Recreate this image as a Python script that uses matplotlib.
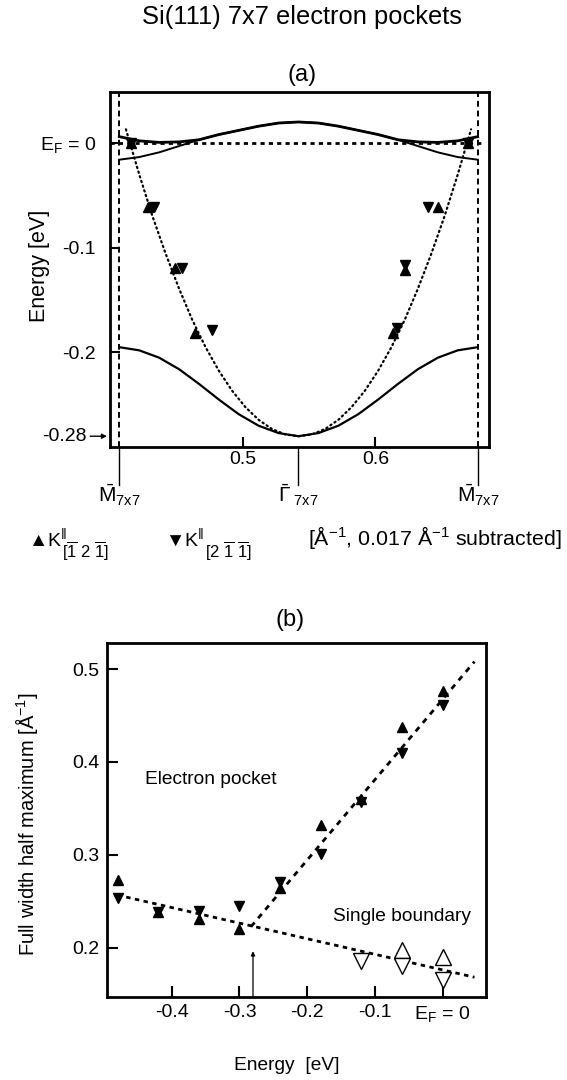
import matplotlib
matplotlib.use("Agg")
from matplotlib import pyplot as plt
import matplotlib.transforms as mtransforms

plt.rcParams["font.family"] = ["Liberation Sans", "DejaVu Sans"]
plt.rcParams["font.size"] = 14
plt.rcParams["mathtext.fontset"] = "custom"
plt.rcParams["mathtext.rm"] = "Liberation Sans"
plt.rcParams["mathtext.it"] = "Liberation Sans:italic"
plt.rcParams["mathtext.bf"] = "Liberation Sans:bold"

# ---- panel (a): band structure along M - Gamma - M ----
k_M_left = 0.407
k_gamma = 0.542
k_M_right = 0.677

k_band = [0.407, 0.422, 0.437, 0.452, 0.467, 0.482, 0.497, 0.512, 0.527, 0.542,
          0.557, 0.572, 0.587, 0.602, 0.617, 0.632, 0.647, 0.662, 0.677]
e_low = [-0.195, -0.198, -0.205, -0.216, -0.230, -0.245, -0.259, -0.270, -0.277, -0.280,
         -0.277, -0.270, -0.259, -0.245, -0.230, -0.216, -0.205, -0.198, -0.195]
e_up_a = [-0.016, -0.0135, -0.009, -0.003, 0.003, 0.008, 0.012, 0.016, 0.019, 0.020,
          0.019, 0.016, 0.012, 0.008, 0.003, -0.003, -0.009, -0.0135, -0.016]
e_up_b = [0.006, 0.002, 0.0005, 0.001, 0.003, 0.008, 0.012, 0.016, 0.019, 0.020,
          0.019, 0.016, 0.012, 0.008, 0.003, 0.001, 0.0005, 0.002, 0.006]

k_par = [0.412, 0.422, 0.432, 0.442, 0.452, 0.462, 0.472, 0.482, 0.492, 0.502, 0.512,
         0.522, 0.532, 0.542, 0.552, 0.562, 0.572, 0.582, 0.592, 0.602, 0.612, 0.622,
         0.632, 0.642, 0.652, 0.662, 0.672]
e_par = [0.013, -0.030, -0.070, -0.106, -0.139, -0.169, -0.195, -0.2175, -0.2366,
         -0.2522, -0.2644, -0.2731, -0.2783, -0.280, -0.2783, -0.2731, -0.2644, -0.2522,
         -0.2366, -0.2175, -0.195, -0.169, -0.139, -0.106, -0.070, -0.030, 0.013]

k_up = [0.416, 0.4289, 0.4488, 0.4639, 0.6135, 0.6225, 0.6473, 0.6699]
e_up = [0.0, -0.061, -0.1197, -0.181, -0.181, -0.121, -0.061, 0.0]
k_dn = [0.416, 0.433, 0.4546, 0.4765, 0.616, 0.6225, 0.6397, 0.6699]
e_dn = [0.0, -0.061, -0.119, -0.1786, -0.177, -0.117, -0.061, 0.0]

# ---- panel (b): FWHM vs energy ----
energy = [-0.48, -0.42, -0.36, -0.30, -0.24, -0.18, -0.12, -0.06, 0.0]
fwhm_up = [0.273, 0.238, 0.231, 0.220, 0.264, 0.332, 0.360, 0.438, 0.476]
fwhm_dn = [0.253, 0.238, 0.239, 0.245, 0.271, 0.301, 0.357, 0.410, 0.461]

sb_up_e = [-0.06, 0.0]
sb_up_w = [0.197, 0.190]
sb_dn_e = [-0.12, -0.06, 0.0]
sb_dn_w = [0.185, 0.180, 0.165]

boundary_fit_e = [-0.48, 0.047]
boundary_fit_w = [0.2565, 0.168]
pocket_fit_e = [-0.283, 0.047]
pocket_fit_w = [0.2224, 0.508]

fig = plt.figure(figsize=(5.67, 10.8), dpi=100)

fig.text(0.532, 0.984, "Si(111) 7x7 electron pockets", ha="center", va="center", fontsize=18.4)
fig.text(0.532, 0.931, "(a)", ha="center", va="center", fontsize=17)
fig.text(0.511, 0.426, "(b)", ha="center", va="center", fontsize=17)

ax = fig.add_axes([0.194, 0.5864, 0.6684, 0.328])
ax.plot(k_band, e_low, color="k", lw=1.6)
ax.plot(k_band, e_up_a, color="k", lw=1.4)
ax.plot(k_band, e_up_b, color="k", lw=2)
ax.plot(k_par, e_par, color="k", lw=1.6, linestyle=(0, (0.6, 1.6)), dash_capstyle="round")
ax.plot([0.4, 0.681], [0, 0], color="k", lw=2, linestyle=(0, (1.5, 1.5)))
for k in [k_M_left, k_M_right]:
    ax.axvline(k, color="k", lw=1.4, linestyle=(0, (3, 2)))
ax.plot(k_up, e_up, linestyle="none", marker="^", color="k", ms=7)
ax.plot(k_dn, e_dn, linestyle="none", marker="v", color="k", ms=7)

ax.set_xlim(0.4, 0.6855)
ax.set_ylim(-0.290, 0.0482)
ax.set_xticks([0.5, 0.6])
ax.set_xticklabels(["0.5", "0.6"])
ax.set_yticks([0, -0.1, -0.2])
ax.set_yticklabels(["E$_\\mathrm{F}$ = 0", "-0.1", "-0.2"])
ax.tick_params(direction="in", length=7, width=1.5, labelsize=14)
ax.tick_params(axis="y", pad=10)
ax.tick_params(axis="x", pad=3)
for s in ax.spines.values():
    s.set_linewidth(2)

ax.annotate("-0.28", xy=(-0.008, -0.28), xycoords=ax.get_yaxis_transform(),
            xytext=(-15, 0), textcoords="offset points", ha="right", va="center",
            fontsize=14, annotation_clip=False,
            arrowprops=dict(arrowstyle="-|>", lw=1, color="k", mutation_scale=7,
                            shrinkA=1, shrinkB=0))

blend = mtransforms.blended_transform_factory(ax.transData, ax.transAxes)
for k in [k_M_left, k_gamma, k_M_right]:
    ax.plot([k, k], [0, -0.107], color="k", lw=1, transform=blend, clip_on=False)
ax.text(k_M_left, -0.137, r"$\bar{\mathrm{M}}_{\mathrm{7x7}}$", transform=blend,
        ha="center", va="center", fontsize=15)
ax.text(k_gamma, -0.137, r"$\bar{\Gamma}_{\ \mathrm{7x7}}$", transform=blend,
        ha="center", va="center", fontsize=15)
ax.text(k_M_right, -0.137, r"$\bar{\mathrm{M}}_{\mathrm{7x7}}$", transform=blend,
        ha="center", va="center", fontsize=15)

fig.text(0.0688, 0.754, "Energy [eV]", rotation=90, ha="center", va="center", fontsize=15.5)

# legend line under panel (a)
fig.text(0.050, 0.502, "▲K$^{\\|}$", ha="left", va="center", fontsize=14)
fig.text(0.109, 0.489, "[$\\overline{1}$ 2 $\\overline{1}$]", ha="left", va="center", fontsize=12)
fig.text(0.291, 0.502, "▼K$^{\\|}$", ha="left", va="center", fontsize=14)
fig.text(0.362, 0.489, "[2 $\\overline{1}$ $\\overline{1}$]", ha="left", va="center", fontsize=12)
fig.text(0.543, 0.502, "[Å$^{-1}$, 0.017 Å$^{-1}$ subtracted]", ha="left", va="center", fontsize=15.4)

bx = fig.add_axes([0.1882, 0.0771, 0.6689, 0.3275])
bx.plot(boundary_fit_e, boundary_fit_w, color="k", lw=2, linestyle=(0, (1.6, 1.6)))
bx.plot(pocket_fit_e, pocket_fit_w, color="k", lw=2, linestyle=(0, (2, 2)))
bx.plot(energy, fwhm_up, linestyle="none", marker="^", color="k", ms=7.5)
bx.plot(energy, fwhm_dn, linestyle="none", marker="v", color="k", ms=7.5)
bx.plot(sb_up_e, sb_up_w, linestyle="none", marker="^", mfc="white", mec="k", mew=1, ms=11)
bx.plot(sb_dn_e, sb_dn_w, linestyle="none", marker="v", mfc="white", mec="k", mew=1, ms=11)
bx.annotate("", xy=(-0.28, 0.196), xytext=(-0.28, 0.147),
            arrowprops=dict(arrowstyle="-|>", lw=0.9, color="k", mutation_scale=6,
                            shrinkA=0, shrinkB=0))

bx.text(-0.4394, 0.3806, "Electron pocket", ha="left", va="center", fontsize=13.8)
bx.text(-0.1625, 0.2339, "Single boundary", ha="left", va="center", fontsize=13.8)

bx.set_xlim(-0.496, 0.064)
bx.set_ylim(0.147, 0.528)
bx.set_xticks([-0.4, -0.3, -0.2, -0.1, 0])
bx.set_xticklabels(["-0.4", "-0.3", "-0.2", "-0.1", "E$_\\mathrm{F}$ = 0"])
bx.set_yticks([0.2, 0.3, 0.4, 0.5])
bx.set_yticklabels(["0.2", "0.3", "0.4", "0.5"])
bx.tick_params(direction="in", length=8, width=1.5, labelsize=14, pad=5)
for s in bx.spines.values():
    s.set_linewidth(2)

fig.text(0.0476, 0.237, "Full width half maximum [Å$^{-1}$]", rotation=90,
         ha="center", va="center", fontsize=14.5)
fig.text(0.506, 0.013, "Energy  [eV]", ha="center", va="center", fontsize=13.8)

fig.savefig("out.png", dpi=100)
